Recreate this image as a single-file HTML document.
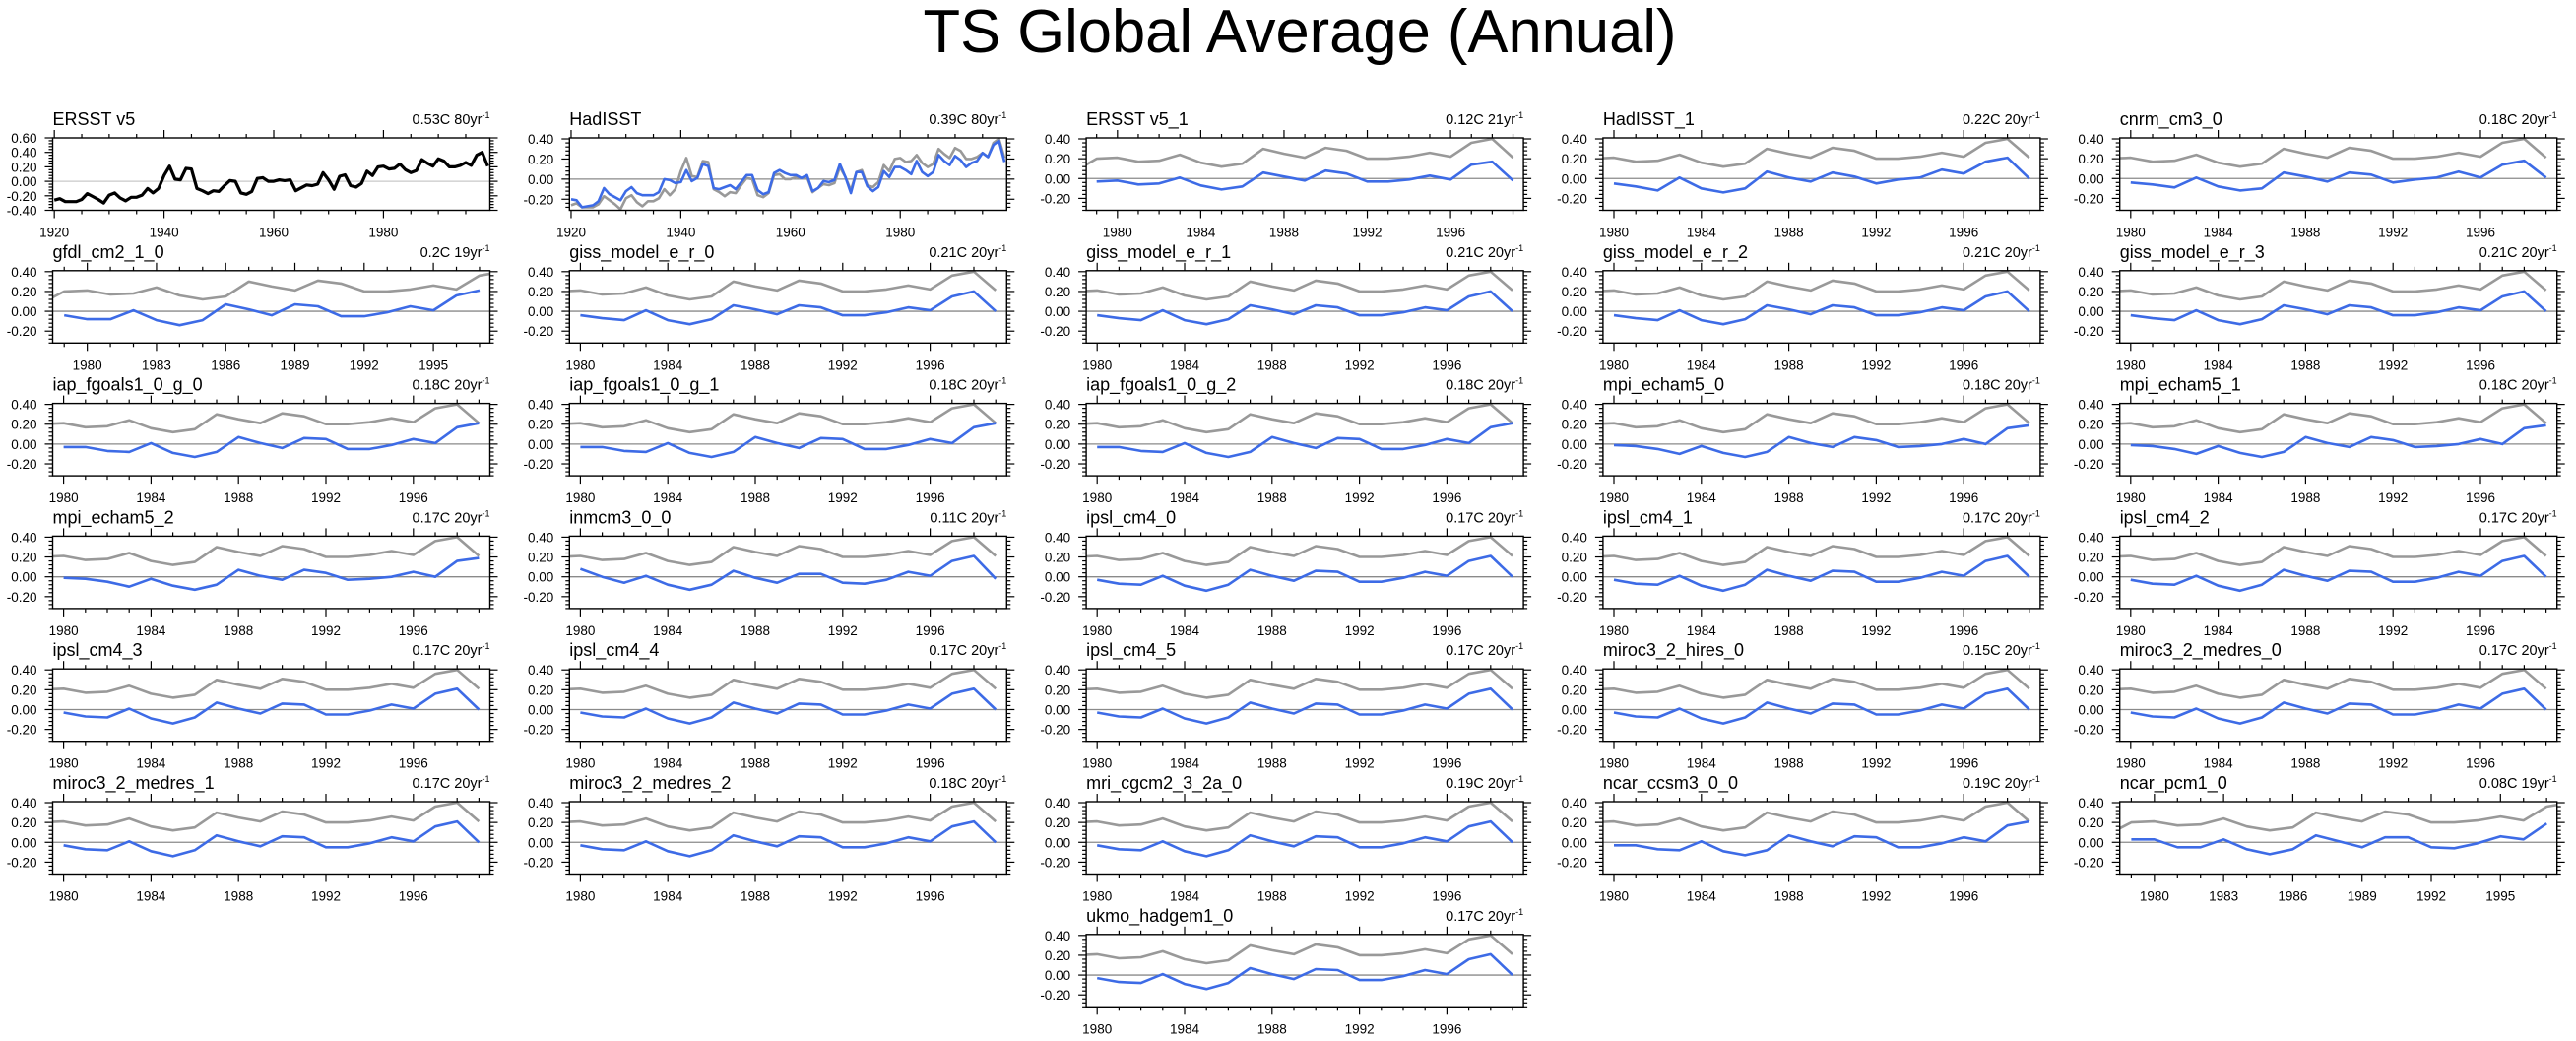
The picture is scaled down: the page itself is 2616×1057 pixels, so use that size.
<!DOCTYPE html>
<html><head><meta charset="utf-8">
<style>
html,body{margin:0;padding:0;background:#fff;}
svg{display:block;font-family:"Liberation Sans",sans-serif;}
</style></head>
<body>
<svg id="fig" width="2616" height="1057" viewBox="0 0 2616 1057" xmlns="http://www.w3.org/2000/svg">
<text x="1320" y="53" text-anchor="middle" font-size="62" textLength="765" lengthAdjust="spacingAndGlyphs">TS Global Average (Annual)</text>
<g id="panels"></g>
</svg>
<script>
// Observed ERSST v5 annual anomalies 1920-1999
const ersst = [-0.26,-0.24,-0.28,-0.28,-0.28,-0.25,-0.17,-0.21,-0.25,-0.30,
 -0.19,-0.16,-0.23,-0.27,-0.22,-0.22,-0.19,-0.10,-0.16,-0.10,
 0.08,0.21,0.03,0.02,0.18,0.17,-0.10,-0.13,-0.17,-0.13,
 -0.14,-0.06,0.01,0.00,-0.16,-0.18,-0.14,0.04,0.05,0.00,
 0.00,0.02,0.01,0.02,-0.13,-0.09,-0.05,-0.06,-0.04,0.12,
 0.02,-0.11,0.07,0.09,-0.06,-0.08,-0.03,0.14,0.08,0.20,
 0.21,0.17,0.18,0.24,0.16,0.12,0.15,0.30,0.25,0.21,
 0.31,0.28,0.20,0.20,0.22,0.26,0.22,0.36,0.40,0.21];
// HadISST annual anomalies 1920-1999
const hadisst = [-0.20,-0.21,-0.28,-0.27,-0.26,-0.22,-0.09,-0.15,-0.18,-0.21,
 -0.12,-0.08,-0.14,-0.16,-0.16,-0.16,-0.13,0.00,-0.01,-0.04,
 -0.03,0.09,-0.02,0.01,0.15,0.13,-0.09,-0.10,-0.08,-0.06,
 -0.10,-0.03,0.04,0.04,-0.11,-0.15,-0.13,0.06,0.09,0.06,
 0.04,0.04,0.01,0.04,-0.12,-0.09,-0.02,-0.03,-0.01,0.15,
 0.02,-0.14,0.07,0.07,-0.07,-0.12,-0.08,0.08,0.02,0.12,
 0.12,0.09,0.05,0.18,0.07,0.03,0.07,0.24,0.18,0.14,
 0.23,0.19,0.12,0.16,0.18,0.26,0.22,0.34,0.38,0.17];
// model / recent-period series
const ersst1 = [-0.03,-0.02,-0.06,-0.05,0.01,-0.07,-0.11,-0.08,0.06,0.02,-0.02,0.08,0.05,-0.03,-0.03,-0.01,0.03,-0.01,0.14,0.17,-0.02];
const hadisst1 = [-0.05,-0.08,-0.12,0.01,-0.10,-0.14,-0.10,0.07,0.01,-0.03,0.06,0.02,-0.05,-0.01,0.01,0.09,0.05,0.17,0.21,0.00];
const cnrm = [-0.04,-0.06,-0.09,0.01,-0.08,-0.12,-0.10,0.06,0.02,-0.03,0.06,0.04,-0.04,-0.01,0.01,0.07,0.01,0.14,0.18,0.01];
const gfdl = [-0.04,-0.08,-0.08,0.01,-0.09,-0.14,-0.09,0.07,0.02,-0.04,0.07,0.05,-0.05,-0.05,-0.01,0.05,0.01,0.16,0.21];
const giss = [-0.04,-0.07,-0.09,0.01,-0.09,-0.13,-0.08,0.06,0.02,-0.03,0.06,0.04,-0.04,-0.04,-0.01,0.04,0.01,0.15,0.20,0.00];
const iap = [-0.03,-0.03,-0.07,-0.08,0.01,-0.09,-0.13,-0.08,0.07,0.01,-0.04,0.06,0.05,-0.05,-0.05,-0.01,0.05,0.01,0.17,0.21];
const mpi = [-0.01,-0.02,-0.05,-0.10,-0.02,-0.09,-0.13,-0.08,0.07,0.01,-0.03,0.07,0.04,-0.03,-0.02,0.00,0.05,0.00,0.16,0.19];
const inmcm = [0.08,0.00,-0.06,0.01,-0.08,-0.13,-0.08,0.06,-0.01,-0.06,0.03,0.03,-0.06,-0.07,-0.03,0.05,0.01,0.16,0.21,-0.02];
const base = [-0.03,-0.07,-0.08,0.01,-0.09,-0.14,-0.08,0.07,0.01,-0.04,0.06,0.05,-0.05,-0.05,-0.01,0.05,0.01,0.16,0.21,0.00];
const ncarpcm = [0.03,0.03,-0.05,-0.05,0.03,-0.07,-0.12,-0.07,0.07,0.01,-0.05,0.05,0.05,-0.05,-0.06,-0.01,0.06,0.03,0.19];
// panel labels
const panelNames = ["ERSST v5","HadISST","ERSST v5_1","HadISST_1","cnrm_cm3_0",
 "gfdl_cm2_1_0","giss_model_e_r_0","giss_model_e_r_1","giss_model_e_r_2","giss_model_e_r_3",
 "iap_fgoals1_0_g_0","iap_fgoals1_0_g_1","iap_fgoals1_0_g_2","mpi_echam5_0","mpi_echam5_1",
 "mpi_echam5_2","inmcm3_0_0","ipsl_cm4_0","ipsl_cm4_1","ipsl_cm4_2",
 "ipsl_cm4_3","ipsl_cm4_4","ipsl_cm4_5","miroc3_2_hires_0","miroc3_2_medres_0",
 "miroc3_2_medres_1","miroc3_2_medres_2","mri_cgcm2_3_2a_0","ncar_ccsm3_0_0","ncar_pcm1_0",
 "ukmo_hadgem1_0"];
const panelTrends = ["0.53C 80yr","0.39C 80yr","0.12C 21yr","0.22C 20yr","0.18C 20yr",
 "0.2C 19yr","0.21C 20yr","0.21C 20yr","0.21C 20yr","0.21C 20yr",
 "0.18C 20yr","0.18C 20yr","0.18C 20yr","0.18C 20yr","0.18C 20yr",
 "0.17C 20yr","0.11C 20yr","0.17C 20yr","0.17C 20yr","0.17C 20yr",
 "0.17C 20yr","0.17C 20yr","0.17C 20yr","0.15C 20yr","0.17C 20yr",
 "0.17C 20yr","0.18C 20yr","0.19C 20yr","0.19C 20yr","0.08C 19yr",
 "0.17C 20yr"];
const panelKinds = ["e80","h80","y21","y20","y20","y19","y20","y20","y20","y20",
 "y20","y20","y20","y20","y20","y20","y20","y20","y20","y20",
 "y20","y20","y20","y20","y20","y20","y20","y20","y20","y19","y20"];
const panelSeries = [ersst,hadisst,ersst1,hadisst1,cnrm,gfdl,giss,giss,giss,giss,
 iap,iap,iap,mpi,mpi,mpi,inmcm,base,base,base,
 base,base,base,base,base,base,base,base,iap,ncarpcm,base];
const panelStart = [1920,1920,1979,1980,1980,1979,1980,1980,1980,1980,
 1980,1980,1980,1980,1980,1980,1980,1980,1980,1980,
 1980,1980,1980,1980,1980,1980,1980,1980,1980,1979,1980];
const obsStart = 1920;

const NS = "http://www.w3.org/2000/svg";
const root = document.getElementById("panels");
function mk(tag, attrs, parent){
  const e = document.createElementNS(NS, tag);
  for (const k in attrs) e.setAttribute(k, attrs[k]);
  parent.appendChild(e);
  return e;
}
const W = 444, H = 73.5;
const kindCfg = {
  e80:{x0:1919.7,x1:1999.4,y0:-0.4,y1:0.6,lab:[1920,1940,1960,1980],minor:5,yl:[0.6,0.4,0.2,0,-0.2,-0.4]},
  h80:{x0:1919.7,x1:1999.4,y0:-0.31,y1:0.41,lab:[1920,1940,1960,1980],minor:5,yl:[0.4,0.2,0,-0.2]},
  y21:{x0:1978.5,x1:1999.5,y0:-0.32,y1:0.41,lab:[1980,1984,1988,1992,1996],minor:1,yl:[0.4,0.2,0,-0.2]},
  y20:{x0:1979.5,x1:1999.5,y0:-0.32,y1:0.41,lab:[1980,1984,1988,1992,1996],minor:1,yl:[0.4,0.2,0,-0.2]},
  y19:{x0:1978.5,x1:1997.45,y0:-0.32,y1:0.41,lab:[1980,1983,1986,1989,1992,1995],minor:1,yl:[0.4,0.2,0,-0.2]}
};
function fmt(v){ return (v<0?"-":"")+Math.abs(v).toFixed(2); }

panelNames.forEach((name, i) => {
  const col = (i === 30) ? 2 : i % 5;
  const row = Math.floor(i / 5);
  const L = 53.5 + 524.8 * col;
  const T = 140 + 134.8 * row;
  const cfg = kindCfg[panelKinds[i]];
  const xs = v => L + (v - cfg.x0) / (cfg.x1 - cfg.x0) * W;
  const ys = v => T + (cfg.y1 - v) / (cfg.y1 - cfg.y0) * H;
  const slug = name.toLowerCase().replace(/[^a-z0-9]+/g, "-");
  const g = mk("g", {}, root);
  
  
  const cp = mk("clipPath", {id: "clip" + i}, g);
  mk("rect", {x: L, y: T, width: W, height: H}, cp);

  const z = mk("line", {x1: L, x2: L + W, y1: ys(0), y2: ys(0), stroke: i === 0 ? "#c8c8c8" : "#8a8a8a", "stroke-width": 1.3}, g);
  
  

  const plot = mk("g", {"clip-path": "url(#clip" + i + ")"}, g);
  if (i !== 0) {
    const pts = [];
    ersst.forEach((v, k) => { const yr = obsStart + k; if (yr >= cfg.x0 - 1 && yr <= cfg.x1 + 1) pts.push(xs(yr).toFixed(1) + "," + ys(v).toFixed(1)); });
    const gl = mk("polyline", {points: pts.join(" "), fill: "none", stroke: "#999999", "stroke-width": 2.6, "stroke-linejoin": "round"}, plot);
    
    
  }
  const ser = panelSeries[i];
  const pts2 = ser.map((v, k) => xs(panelStart[i] + k).toFixed(1) + "," + ys(v).toFixed(1));
  const bl = mk("polyline", {points: pts2.join(" "), fill: "none", stroke: i === 0 ? "#000000" : "#3d6be6", "stroke-width": i === 0 ? 3.2 : 2.6, "stroke-linejoin": "round"}, plot);
  
  

  const fr = mk("rect", {x: L, y: T, width: W, height: H, fill: "none", stroke: "#000", "stroke-width": 1.4}, g);
  
  

  const tk = mk("g", {stroke: "#000", "stroke-width": 1.2}, g);
  
  
  const startYr = Math.ceil(cfg.x0);
  for (let yr = startYr; yr <= cfg.x1; yr++) {
    if ((yr - 1920) % cfg.minor !== 0 && cfg.minor > 1) continue;
    const major = cfg.lab.includes(yr) || (cfg.minor === 1 && cfg.lab.length === 5 && (yr - 1980) % 4 === 0) || (cfg.lab.length === 6 && (yr - 1980) % 3 === 0);
    const len = major ? 8 : 4;
    const x = xs(yr);
    mk("line", {x1: x, x2: x, y1: T + H, y2: T + H + len}, tk);
    mk("line", {x1: x, x2: x, y1: T, y2: T - len}, tk);
  }
  const step = 0.04;
  for (let v = Math.ceil(cfg.y0 / step - 1e-6) * step; v <= cfg.y1 + 1e-6; v += step) {
    const major = Math.abs(Math.round(v / 0.2) * 0.2 - v) < 1e-6;
    const len = major ? 8 : 4;
    const y = ys(v);
    mk("line", {x1: L, x2: L - len, y1: y, y2: y}, tk);
    mk("line", {x1: L + W, x2: L + W + len, y1: y, y2: y}, tk);
  }
  cfg.lab.forEach(yr => {
    const t = mk("text", {x: xs(yr), y: T + H + 27, "text-anchor": "middle", "font-size": 13.5}, g);
    t.textContent = yr;
    
    
  });
  cfg.yl.forEach(v => {
    const t = mk("text", {x: L - 16, y: ys(v) + 5, "text-anchor": "end", "font-size": 13.5}, g);
    t.textContent = fmt(v);
    
    
  });
  const tt = mk("text", {x: L, y: T - 13, "font-size": 18}, g);
  tt.textContent = name;
  
  
  const tr = mk("text", {x: L + W, y: T - 14, "text-anchor": "end", "font-size": 14.5}, g);
  
  
  const t1 = mk("tspan", {}, tr);
  t1.textContent = panelTrends[i];
  const t2 = mk("tspan", {dy: -6, "font-size": 9}, tr);
  t2.textContent = "-1";
});
</script>
</body></html>
